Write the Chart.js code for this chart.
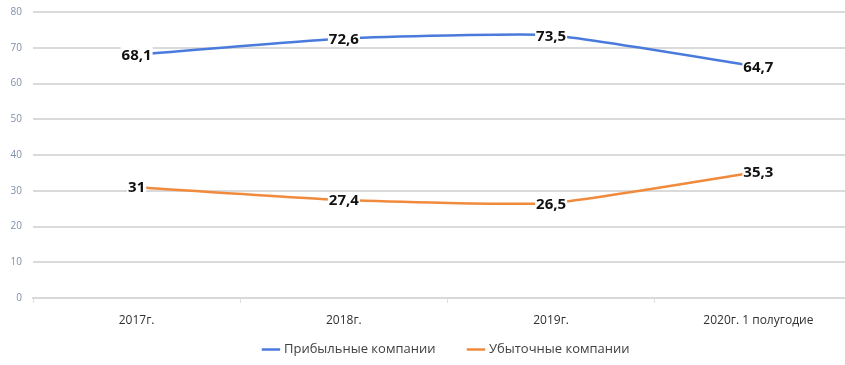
<!DOCTYPE html>
<html>
<head>
<meta charset="utf-8">
<script src="https://cdn.jsdelivr.net/npm/chart.js@4/dist/chart.umd.min.js"></script>
<style>
	html, body { margin: 0; padding: 0; background: #fff; overflow: hidden; }
	#wrap { width: 866px; height: 370px; margin-top: -5px; }
</style>
</head>
<body>
<div id="wrap"><canvas id="chart"></canvas></div>
<script>
	const categories = ['2017г.', '2018г.', '2019г.', '2020г. 1 полугодие'];
	const profitable = [68.1, 72.6, 73.5, 64.7];
	const unprofitable = [31, 27.4, 26.5, 35.3];
	const seriesNames = ['Прибыльные компании', 'Убыточные компании'];

	const tweaks = {
		id: 'tweaks',
		beforeInit(chart) {
			// fixed legend height so the axis labels sit close above it
			const fit = chart.legend.fit;
			chart.legend.fit = function() {
				fit.call(this);
				this.height = 30;
			};
		},
		afterLayout(chart) {
			// the legend sits a little right of centre in the original
			chart.legend.left += 16;
			chart.legend.right += 16;
		},
		// value labels centred on the points, on a white patch like the original
		afterDatasetsDraw(chart) {
			const ctx = chart.ctx;
			ctx.save();
			ctx.font = 'bold 15px "Open Sans", sans-serif';
			ctx.textAlign = 'center';
			ctx.textBaseline = 'middle';
			chart.data.datasets.forEach((ds, i) => {
				chart.getDatasetMeta(i).data.forEach((pt, j) => {
					const text = String(ds.data[j]).replace('.', ',');
					const w = ctx.measureText(text).width;
					ctx.fillStyle = '#fff';
					ctx.fillRect(pt.x - w / 2 - 1, pt.y - 8, w + 2, 16);
					ctx.fillStyle = '#111';
					ctx.fillText(text, pt.x, pt.y + 1);
				});
			});
			ctx.restore();
		}
	};

	new Chart(document.getElementById('chart'), {
		type: 'line',
		data: {
			labels: categories,
			datasets: [
				{
					label: seriesNames[0] + '\u2003\u2003',
					data: profitable,
					borderColor: '#4a7bdc',
					backgroundColor: '#4a7bdc',
					borderWidth: 2.5,
					pointRadius: 0,
					tension: 0.15
				},
				{
					label: seriesNames[1],
					data: unprofitable,
					borderColor: '#f08a3c',
					backgroundColor: '#f08a3c',
					borderWidth: 2.5,
					pointRadius: 0,
					tension: 0.15
				}
			]
		},
		options: {
			responsive: true,
			maintainAspectRatio: false,
			animation: false,
			layout: { padding: { top: 0, left: 0, right: 4, bottom: 0 } },
			plugins: {
				tooltip: { enabled: false },
				legend: {
					position: 'bottom',
					labels: {
						usePointStyle: true,
						pointStyle: 'line',
						boxWidth: 18,
						padding: 8,
						color: '#404040',
						font: { family: '"Open Sans", sans-serif', size: 13 }
					}
				}
			},
			scales: {
				x: {
					offset: true,
					afterFit(scale) { scale.height = 37; },
					grid: {
						offset: true,
						drawOnChartArea: false,
						tickLength: 5,
						color: '#e0e0e0'
					},
					border: { color: '#d9d9d9', width: 2 },
					ticks: {
						color: '#303030',
						padding: 10,
						font: { family: '"Open Sans", sans-serif', size: 12 }
					}
				},
				y: {
					min: 0,
					max: 80,
					afterFit(scale) { scale.width = 33; },
					grid: { color: '#dadada', lineWidth: 2, drawTicks: false },
					border: { display: false },
					ticks: {
						stepSize: 10,
						padding: 11,
						color: '#7f8fa9',
						font: { family: '"Open Sans", sans-serif', size: 10 }
					}
				}
			}
		},
		plugins: [tweaks]
	});
</script>
</body>
</html>
